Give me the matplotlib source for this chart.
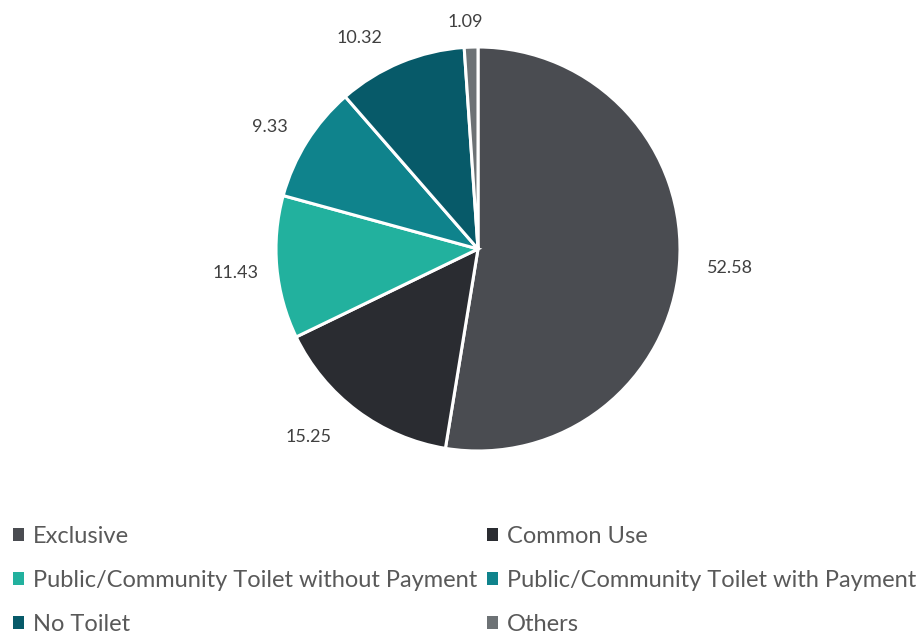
import numpy as np
import matplotlib.pyplot as plt
from matplotlib.patches import Patch

plt.rcParams['font.family'] = ['Lato', 'DejaVu Sans']

categories = ['Exclusive', 'Common Use',
              'Public/Community Toilet without Payment',
              'Public/Community Toilet with Payment',
              'No Toilet', 'Others']
shares = [52.58, 15.25, 11.43, 9.33, 10.32, 1.09]
colors = ['#4a4c51', '#2a2c31', '#22b19e', '#0f838c', '#075a69', '#6d7275']

fig = plt.figure(figsize=(9.2, 6.34), dpi=100)
ax = fig.add_axes([(478 - 202) / 920, (634 - 451) / 634, 404 / 920, 404 / 634])

wedges, _ = ax.pie(shares, colors=colors, startangle=90, counterclock=False,
                   wedgeprops=dict(edgecolor='white', linewidth=2.2))
ax.set_xlim(-1, 1)
ax.set_ylim(-1, 1)
ax.set_aspect('equal')

# value labels: box edge sits just outside the rim, a few pushed aside
nudge = {'No Toilet': (-22, -1),
         'Common Use': (-18, -4),
         'Public/Community Toilet without Payment': (9, -3),
         'Others': (-4, -2)}
for w, v, name in zip(wedges, shares, categories):
    ang = np.deg2rad((w.theta1 + w.theta2) / 2)
    c, s = np.cos(ang), np.sin(ang)
    half_w = 6.5 * len(f'{v:.2f}')
    dx, dy = nudge.get(name, (0, 0))
    ax.annotate(f'{v:.2f}', (1.09 * c, 1.09 * s), xytext=(half_w * c + dx, 9 * s + dy),
                textcoords='offset pixels', ha='center', va='center',
                fontsize=13, color='#404040', annotation_clip=False)

# legend reads row by row, so feed it column by column
order = [0, 2, 4, 1, 3, 5]
handles = [Patch(facecolor=colors[i], edgecolor='none') for i in order]
fig.legend(handles, [categories[i] for i in order], loc='lower left',
           bbox_to_anchor=(-0.009, -0.035), ncol=2, frameon=False, fontsize=17,
           labelcolor='#595959', handlelength=0.45, handleheight=0.45,
           handletextpad=0.4, columnspacing=0.42, labelspacing=0.98)

fig.savefig('out.png', dpi=100)
